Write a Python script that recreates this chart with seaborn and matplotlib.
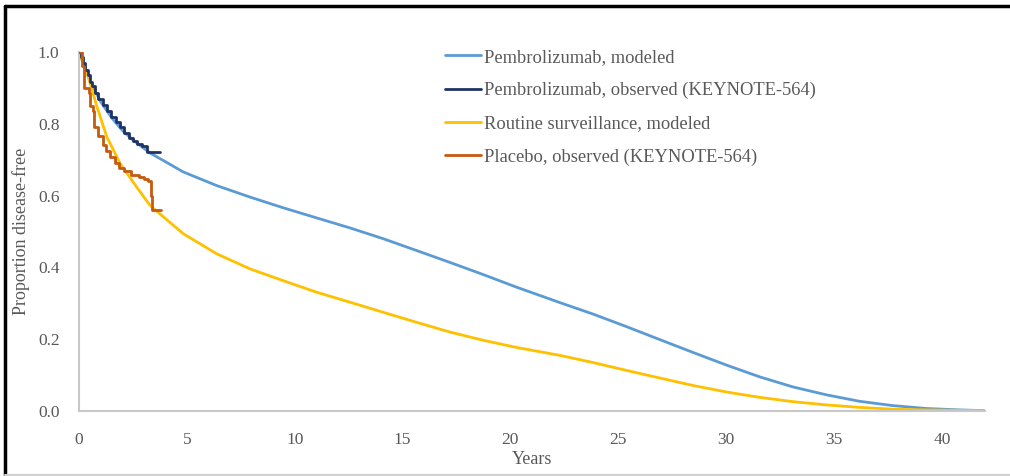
import numpy as np
import pandas as pd
import matplotlib
matplotlib.use("Agg")
import matplotlib.pyplot as plt
from matplotlib.lines import Line2D
import seaborn as sns

# ---- data ----
pembro_model_years = [0, 0.5, 1, 1.5, 2, 2.5, 3, 3.29, 4.83, 6.38, 7.92, 9.47, 11.01, 12.56,
                      14.1, 15.65, 17.19, 18.74, 20.28, 22.29, 23.83, 25.38, 26.92, 28.47,
                      30.01, 31.56, 33.1, 34.65, 36.19, 37.73, 39.28, 40.82, 42]
pembro_model_values = [1.0, 0.92, 0.862, 0.818, 0.782, 0.755, 0.732, 0.719, 0.666, 0.628, 0.596,
                       0.566, 0.538, 0.510, 0.480, 0.447, 0.414, 0.380, 0.345, 0.302, 0.270,
                       0.235, 0.199, 0.163, 0.128, 0.095, 0.067, 0.045, 0.027, 0.015, 0.007,
                       0.003, 0.001]

pembro_obs_years = [0, 0.1, 0.2, 0.3, 0.4, 0.5, 0.6, 0.75, 0.9, 1.1, 1.3, 1.5, 1.7, 1.9, 2.1,
                    2.3, 2.5, 2.7, 2.9, 3.15, 3.77]
pembro_obs_values = [1.0, 0.985, 0.968, 0.95, 0.935, 0.917, 0.905, 0.885, 0.87, 0.852, 0.835,
                     0.82, 0.805, 0.79, 0.775, 0.76, 0.752, 0.745, 0.738, 0.722, 0.722]

routine_model_years = [0, 0.43, 0.82, 1.28, 1.9, 2.67, 3.29, 3.75, 4.83, 6.38, 7.92, 9.47,
                       11.01, 12.56, 14.1, 15.65, 17.19, 18.74, 20.28, 22.29, 23.83, 25.38,
                       26.92, 28.47, 30.01, 31.56, 33.1, 34.65, 36.19, 37.73, 39.28, 42]
routine_model_values = [1.0, 0.931, 0.85, 0.765, 0.69, 0.624, 0.573, 0.549, 0.494, 0.438, 0.396,
                        0.363, 0.331, 0.303, 0.275, 0.247, 0.220, 0.197, 0.177, 0.155, 0.135,
                        0.113, 0.092, 0.071, 0.053, 0.038, 0.026, 0.017, 0.010, 0.005, 0.003,
                        0.001]

placebo_obs_years = [0, 0.15, 0.25, 0.45, 0.5, 0.65, 0.7, 0.9, 1.1, 1.25, 1.45, 1.65, 1.85,
                     2.1, 2.4, 2.8, 3.0, 3.2, 3.33, 3.4, 3.8]
placebo_obs_values = [1.0, 0.96, 0.90, 0.885, 0.85, 0.835, 0.79, 0.765, 0.74, 0.725, 0.708,
                      0.69, 0.678, 0.668, 0.658, 0.652, 0.645, 0.64, 0.60, 0.56, 0.56]

series_labels = ["Pembrolizumab, modeled",
                 "Pembrolizumab, observed (KEYNOTE-564)",
                 "Routine surveillance, modeled",
                 "Placebo, observed (KEYNOTE-564)"]
x_ticks = [0, 5, 10, 15, 20, 25, 30, 35, 40]
y_ticks = [0.0, 0.2, 0.4, 0.6, 0.8, 1.0]

colors = ["#5B9BD5", "#1F3366", "#FFC000", "#C55A11"]

# ---- plot ----
sns.set_theme(style="white")
plt.rcParams["font.family"] = ["Liberation Serif", "DejaVu Serif"]
text_color = "#595959"

fig = plt.figure(figsize=(10.1, 4.76), dpi=100)
ax = fig.add_axes([79 / 1010, 1 - 411 / 476, (985 - 79) / 1010, (411 - 52) / 476])

df_pm = pd.DataFrame({"Years": pembro_model_years, "Value": pembro_model_values})
df_po = pd.DataFrame({"Years": pembro_obs_years, "Value": pembro_obs_values})
df_rm = pd.DataFrame({"Years": routine_model_years, "Value": routine_model_values})
df_pl = pd.DataFrame({"Years": placebo_obs_years, "Value": placebo_obs_values})

lw = 2.0
sns.lineplot(data=df_pm, x="Years", y="Value", ax=ax, color=colors[0], lw=lw, sort=False, zorder=2)
sns.lineplot(data=df_rm, x="Years", y="Value", ax=ax, color=colors[2], lw=lw, sort=False, zorder=2)
sns.lineplot(data=df_po, x="Years", y="Value", ax=ax, color=colors[1], lw=lw, sort=False,
             drawstyle="steps-post", zorder=3)
sns.lineplot(data=df_pl, x="Years", y="Value", ax=ax, color=colors[3], lw=lw, sort=False,
             drawstyle="steps-post", zorder=3)

ax.set_xlim(0, 42)
ax.set_ylim(0, 1.0)
ax.set_xticks(x_ticks)
ax.set_xticklabels([str(t) for t in x_ticks])
ax.set_yticks(y_ticks)
ax.set_yticklabels([f"{t:.1f}" for t in y_ticks])
ax.tick_params(axis="x", length=0, labelsize=12.5, colors=text_color, pad=15)
ax.tick_params(axis="y", length=0, labelsize=12.5, colors=text_color, pad=14)
ax.set_xlabel("Years", fontsize=13, color=text_color, labelpad=2)
ax.set_ylabel("Proportion disease-free", fontsize=13, color=text_color, labelpad=6)

for s in ["top", "right"]:
    ax.spines[s].set_visible(False)
for s in ["left", "bottom"]:
    ax.spines[s].set_color("#C8C8C8")
    ax.spines[s].set_linewidth(1.5)
ax.grid(False)

handles = [Line2D([0], [0], color=c, lw=lw) for c in colors]
leg = ax.legend(handles, series_labels, loc="upper left", bbox_to_anchor=(0.386, 1.055),
                frameon=False, fontsize=13.3, handlelength=1.95, handletextpad=0.12,
                labelspacing=0.87, labelcolor=text_color)

# outer frame of the picture
fig.add_artist(Line2D([5 / 1010, 5 / 1010], [1 - 6 / 476, 1 - 475 / 476],
                      transform=fig.transFigure, color="black", lw=2.5))
fig.add_artist(Line2D([5 / 1010, 1.0], [1 - 6 / 476, 1 - 6 / 476],
                      transform=fig.transFigure, color="black", lw=2.5))
fig.add_artist(Line2D([5 / 1010, 1.0], [1 - 475 / 476, 1 - 475 / 476],
                      transform=fig.transFigure, color="#D0D0D0", lw=1.5))

fig.savefig("out.png", dpi=100)
